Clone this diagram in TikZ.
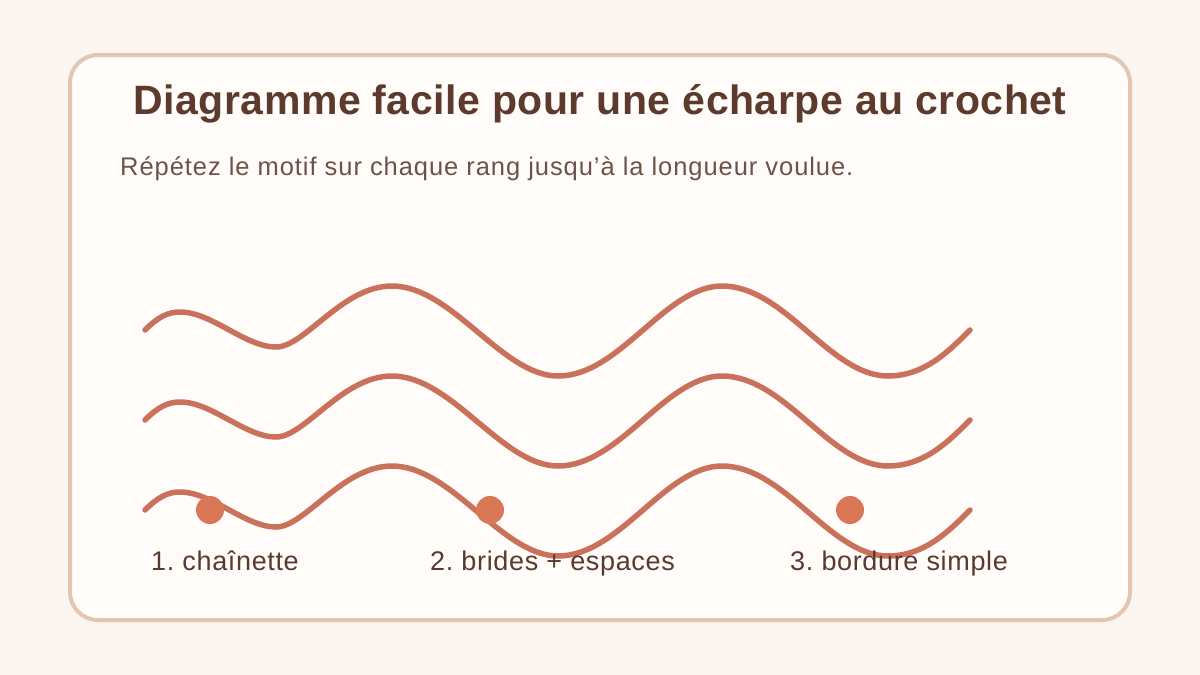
\documentclass[tikz,border=0pt]{standalone}
\usepackage{fontspec}
\setmainfont{Liberation Sans}
\frenchspacing
\definecolor{bgc}{HTML}{FDF5EF}
\definecolor{cardfill}{HTML}{FFFCFA}
\definecolor{cardline}{HTML}{E2C6B1}
\definecolor{titlec}{HTML}{5C3A2C}
\definecolor{subc}{HTML}{6E5248}
\definecolor{labelc}{HTML}{5A3A2F}
\definecolor{wavec}{HTML}{C9715A}
\definecolor{dotc}{HTML}{D97757}
\tikzset{
  wave/.style={draw=wavec, line width=5.5pt, line cap=round, line join=round},
  dotmark/.style={circle, fill=dotc, minimum size=28pt, inner sep=0pt},
  labeltext/.style={anchor=base west, text=labelc, font=\fontsize{27}{30}\selectfont\addfontfeatures{LetterSpace=2.4}, inner sep=0pt},
}
\begin{document}
\begin{tikzpicture}[x=1pt,y=-1pt]
\useasboundingbox (0,0) rectangle (1200,675);
\fill[bgc] (0,0) rectangle (1200,675);
\draw[cardline, fill=cardfill, line width=4pt, rounded corners=28pt] (70,55) rectangle (1130,620);
\node[anchor=base, text=titlec, font=\fontsize{41}{45}\selectfont\bfseries\addfontfeatures{LetterSpace=1.3}, inner sep=0pt] (title) at (600,114) {Diagramme facile pour une écharpe au crochet};
\node[anchor=base west, text=subc, font=\fontsize{25.5}{29}\selectfont\addfontfeatures{LetterSpace=3.7}, inner sep=0pt] (sub) at (120,175) {Répétez le motif sur chaque rang jusqu’à la longueur voulue.};
\foreach \dy in {0,90,180}{
  \begin{scope}[shift={(0,\dy)}]
  \draw[wave] (145,330) .. controls (158,317) and (168,312) .. (180,312)
    .. controls (212,312) and (245,347) .. (276,347)
    .. controls (305,347) and (342,286) .. (392,286)
    .. controls (452,286) and (502,376) .. (558,376)
    .. controls (620,376) and (665,286) .. (722,286)
    .. controls (785,286) and (830,376) .. (888,376)
    .. controls (925,376) and (950,350) .. (970,330);
  \end{scope}
}
\node[dotmark] (d1) at (210,510) {};
\node[dotmark] (d2) at (490,510) {};
\node[dotmark] (d3) at (850,510) {};
\node[labeltext] (l1) at (151,570) {1. chaînette};
\node[labeltext] (l2) at (430,570) {2. brides + espaces};
\node[labeltext] (l3) at (790,570) {3. bordure simple};
\end{tikzpicture}
\end{document}
